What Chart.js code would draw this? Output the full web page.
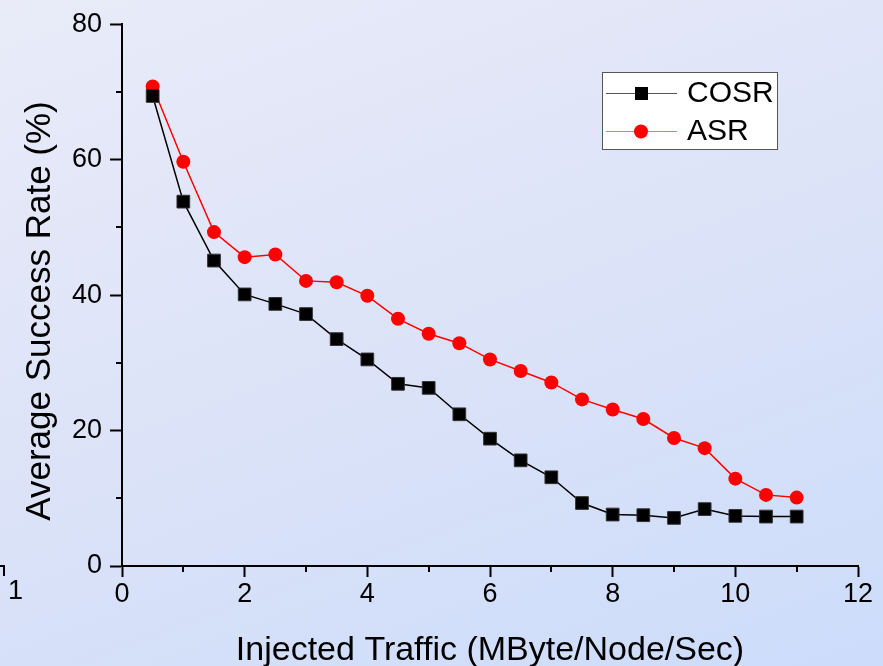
<!DOCTYPE html>
<html>
<head>
<meta charset="utf-8">
<script src="https://cdn.jsdelivr.net/npm/chart.js@4/dist/chart.umd.min.js"></script>
<style>
  html, body { margin: 0; padding: 0; }
  body {
    width: 883px; height: 666px; overflow: hidden;
    background: linear-gradient(160deg, #e9ebf8 0%, #dce3f8 50%, #ccdcfa 100%);
    font-family: "Liberation Sans", Arial, sans-serif;
  }
  #wrap { position: relative; width: 883px; height: 666px; }
  #stray { position: absolute; left: 8px; top: 575px; font-size: 27px; color: #000; }
  #strayTick { position: absolute; left: 0; top: 565px; width: 5px; height: 11px;
    border-top: 2px solid #000; border-right: 2px solid #000; box-sizing: border-box; }
</style>
</head>
<body>
<div id="wrap">
  <canvas id="grafico" width="883" height="666"></canvas>
  <div id="strayTick"></div>
  <div id="stray">1</div>
</div>
<script>
// dados
const trafego = [0.5, 1, 1.5, 2, 2.5, 3, 3.5, 4, 4.5, 5, 5.5, 6, 6.5, 7, 7.5, 8, 8.5, 9, 9.5, 10, 10.5, 11];
const cosr = [69.4, 53.8, 45.1, 40.1, 38.7, 37.2, 33.5, 30.5, 26.9, 26.3, 22.4, 18.8, 15.6, 13.1, 9.3, 7.6, 7.5, 7.1, 8.4, 7.4, 7.3, 7.3];
const asr = [70.8, 59.7, 49.3, 45.6, 46.0, 42.1, 41.9, 39.9, 36.5, 34.3, 32.9, 30.5, 28.8, 27.1, 24.6, 23.1, 21.7, 18.9, 17.4, 12.9, 10.5, 10.1];
const ticksX = [0, 2, 4, 6, 8, 10, 12];
const ticksY = [0, 20, 40, 60, 80];
const minorX = [1, 3, 5, 7, 9, 11];
const minorY = [10, 30, 50, 70];
const tituloX = 'Injected Traffic (MByte/Node/Sec)';
const tituloY = 'Average Success Rate (%)';

const fonte = '"Liberation Sans", Arial, sans-serif';

// ticks menores + títulos dos eixos + legenda
const extras = {
  id: 'extras',
  afterDraw(chart) {
    const ctx = chart.ctx;
    const sx = chart.scales.x, sy = chart.scales.y;
    const area = chart.chartArea;
    ctx.save();
    ctx.strokeStyle = '#000';
    ctx.lineWidth = 2;
    minorX.forEach(v => {
      const px = Math.round(sx.getPixelForValue(v));
      ctx.beginPath(); ctx.moveTo(px, area.bottom); ctx.lineTo(px, area.bottom + 6); ctx.stroke();
    });
    minorY.forEach(v => {
      const py = Math.round(sy.getPixelForValue(v));
      ctx.beginPath(); ctx.moveTo(area.left - 6, py); ctx.lineTo(area.left, py); ctx.stroke();
    });

    // títulos
    ctx.fillStyle = '#000';
    ctx.font = '34px ' + fonte;
    ctx.textAlign = 'center';
    ctx.textBaseline = 'alphabetic';
    ctx.fillText(tituloX, (area.left + area.right) / 2, 660);
    ctx.save();
    ctx.translate(50, 311);
    ctx.rotate(-Math.PI / 2);
    ctx.font = '35px ' + fonte;
    ctx.fillText(tituloY, 0, 0);
    ctx.restore();

    // legenda
    ctx.fillStyle = '#fff';
    ctx.fillRect(602, 72, 175, 77);
    ctx.strokeStyle = '#555';
    ctx.lineWidth = 1;
    ctx.strokeRect(602.5, 72.5, 175, 77);
    const linhas = [93, 131];
    chart.data.datasets.forEach((ds, i) => {
      const y = linhas[i];
      ctx.strokeStyle = i === 0 ? '#555' : '#ff7070';
      ctx.lineWidth = 1;
      ctx.beginPath(); ctx.moveTo(606, y + 0.5); ctx.lineTo(677, y + 0.5); ctx.stroke();
      ctx.fillStyle = ds.backgroundColor;
      if (ds.pointStyle === 'rect') {
        ctx.fillRect(635, y - 6, 13, 13);
      } else {
        ctx.beginPath(); ctx.arc(641, y + 0.5, 7, 0, Math.PI * 2); ctx.fill();
      }
      ctx.fillStyle = '#000';
      ctx.font = '30px ' + fonte;
      ctx.textAlign = 'left';
      ctx.textBaseline = 'middle';
      ctx.fillText(ds.label, 687, y + 1);
    });
    ctx.restore();
  }
};

const ctx = document.getElementById('grafico').getContext('2d');
new Chart(ctx, {
  type: 'line',
  data: {
    datasets: [{
      label: 'COSR',
      data: trafego.map((x, i) => ({ x: x, y: cosr[i] })),
      borderColor: '#000',
      borderWidth: 1.5,
      backgroundColor: '#000',
      pointStyle: 'rect',
      pointRadius: 9,
      pointBorderColor: '#333',
      pointBorderWidth: 1,
      tension: 0
    }, {
      label: 'ASR',
      data: trafego.map((x, i) => ({ x: x, y: asr[i] })),
      borderColor: '#ff0000',
      borderWidth: 1.5,
      backgroundColor: '#ff0000',
      pointStyle: 'circle',
      pointRadius: 7,
      pointBorderColor: '#ff0000',
      pointBorderWidth: 0,
      tension: 0
    }]
  },
  options: {
    responsive: false,
    animation: false,
    layout: { padding: { top: 22, right: 25, left: 0, bottom: 0 } },
    plugins: { legend: { display: false }, tooltip: { enabled: false } },
    scales: {
      x: {
        type: 'linear',
        min: 0, max: 12,
        afterFit: s => { s.height = 100; },
        afterBuildTicks: s => { s.ticks = ticksX.map(v => ({ value: v })); },
        grid: { drawOnChartArea: false, tickLength: 11, tickWidth: 2, tickColor: '#000' },
        border: { color: '#000', width: 2 },
        ticks: { color: '#000', padding: 1, font: { size: 27, family: fonte } }
      },
      y: {
        min: 0, max: 80,
        afterFit: s => { s.width = 122; },
        afterBuildTicks: s => { s.ticks = ticksY.map(v => ({ value: v })); },
        grid: { drawOnChartArea: false, tickLength: 12, tickWidth: 2, tickColor: '#000' },
        border: { color: '#000', width: 2 },
        ticks: { color: '#000', padding: 8, font: { size: 27, family: fonte } }
      }
    }
  },
  plugins: [extras]
});
</script>
</body>
</html>
